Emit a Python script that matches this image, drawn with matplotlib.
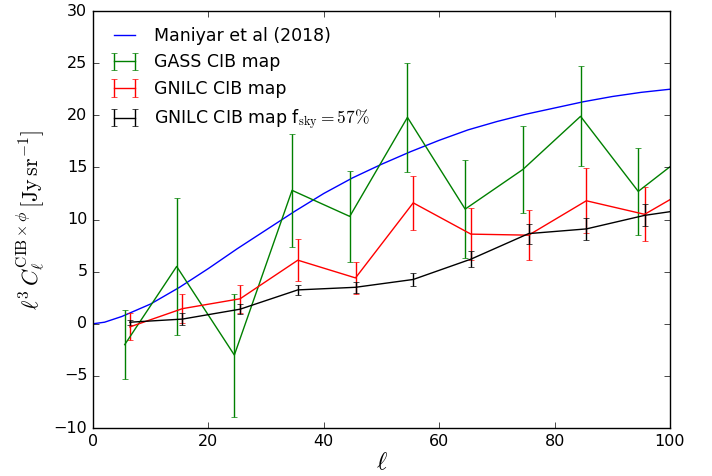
import matplotlib
matplotlib.use("Agg")
from matplotlib import pyplot as plt
import numpy as np

# Maniyar et al (2018) model curve
ell_model = [0, 2, 5, 10, 15, 20, 25, 30, 35, 40, 45, 50, 55, 60, 65, 70, 75, 80, 85, 90, 95, 100]
cl_model = [0, 0.15, 0.7, 1.9, 3.5, 5.3, 7.2, 9.0, 10.8, 12.5, 14.0, 15.3, 16.5, 17.6, 18.6,
            19.4, 20.1, 20.7, 21.3, 21.8, 22.2, 22.5]

# GASS CIB map
ell_gass = [5.5, 14.5, 24.5, 34.5, 44.5, 54.5, 64.5, 74.5, 84.5, 94.5, 104.5]
cl_gass = [-2.0, 5.5, -3.0, 12.8, 10.3, 19.8, 11.0, 14.8, 19.9, 12.7, 17.0]
err_gass = [3.3, 6.6, 5.9, 5.4, 4.4, 5.2, 4.7, 4.2, 4.8, 4.2, 4.5]

# GNILC CIB map
ell_gnilc = [6.4, 15.5, 25.5, 35.5, 45.5, 55.5, 65.5, 75.5, 85.5, 95.6, 105.6]
cl_gnilc = [-0.3, 1.45, 2.4, 6.1, 4.4, 11.6, 8.6, 8.5, 11.8, 10.5, 13.7]
err_gnilc = [1.3, 1.4, 1.35, 2.0, 1.5, 2.6, 2.5, 2.4, 3.1, 2.6, 2.8]

# GNILC CIB map fsky = 57%
cl_gnilc57 = [0.15, 0.45, 1.4, 3.25, 3.5, 4.25, 6.2, 8.65, 9.1, 10.4, 11.2]
err_gnilc57 = [0.25, 0.55, 0.45, 0.5, 0.5, 0.65, 0.8, 0.95, 1.05, 1.05, 1.1]

plt.style.use("classic")
plt.rcParams["font.size"] = 11.5
plt.rcParams["mathtext.fontset"] = "cm"

fig = plt.figure(figsize=(7.12, 4.76), dpi=100, facecolor="white")
ax = fig.add_axes([0.1306, 0.1008, 0.8104, 0.876])

ax.plot(ell_model, cl_model, c="b", lw=1, label="Maniyar et al (2018)")
ax.errorbar(ell_gass, cl_gass, yerr=err_gass, c="g", lw=1, capsize=2.2,
            label="GASS CIB map")
ax.errorbar(ell_gnilc, cl_gnilc, yerr=err_gnilc, c="r", lw=1, capsize=2.2,
            label="GNILC CIB map")
ax.errorbar(ell_gnilc, cl_gnilc57, yerr=err_gnilc57, c="k", lw=1, capsize=2.2,
            label=r"GNILC CIB map f$_{\rm sky}=57\%$")

ax.set_xlim(0, 100)
ax.set_ylim(-10, 30)
ax.set_xticks([0, 20, 40, 60, 80, 100])
ax.set_yticks(np.arange(-10, 31, 5))
ax.set_xlabel(r"$\ell$", fontsize=18, labelpad=1)
ax.set_ylabel(r"$\ell^3\,C_\ell^{\rm CIB\times\phi}\,[{\rm Jy\,sr^{-1}}]$", fontsize=16)
ax.legend(loc="upper left", frameon=False, fontsize=12.5, handlelength=1.8)

plt.savefig("out.png", dpi=100, facecolor="white")
